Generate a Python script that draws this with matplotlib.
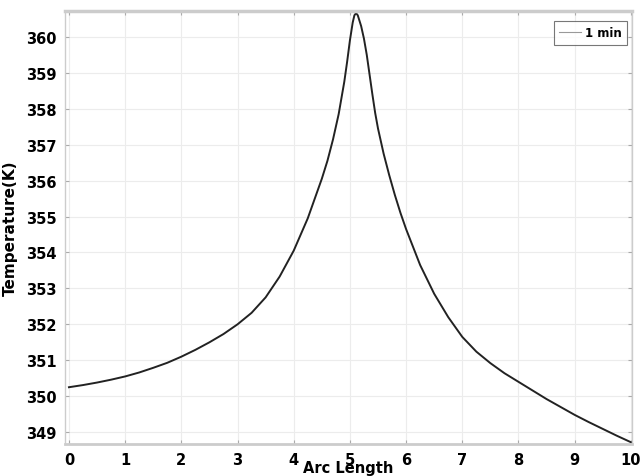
import matplotlib
matplotlib.use("Agg")
import matplotlib.pyplot as plt

arc_length = [0.0, 0.25, 0.5, 0.75, 1.0, 1.25, 1.5, 1.75, 2.0, 2.25, 2.5, 2.75,
              3.0, 3.25, 3.5, 3.75, 4.0, 4.25, 4.5, 4.6, 4.7, 4.8, 4.9, 4.95,
              5.0, 5.05, 5.08, 5.11, 5.14, 5.17, 5.2, 5.25, 5.3, 5.35, 5.4, 5.45,
              5.5, 5.6, 5.7, 5.8, 5.9, 6.0, 6.25, 6.5, 6.75, 7.0, 7.25, 7.5, 7.75,
              8.0, 8.25, 8.5, 8.75, 9.0, 9.25, 9.5, 9.75, 10.0]
temperature = [350.25, 350.31, 350.38, 350.46, 350.55, 350.66, 350.79, 350.93,
               351.1, 351.29, 351.5, 351.73, 352.0, 352.32, 352.75, 353.33, 354.05,
               354.95, 356.05, 356.55, 357.15, 357.85, 358.75, 359.3, 359.9,
               360.4, 360.6, 360.66, 360.6, 360.45, 360.3, 359.95, 359.5, 358.95,
               358.4, 357.88, 357.45, 356.75, 356.15, 355.6, 355.1, 354.65, 353.65,
               352.85, 352.2, 351.65, 351.24, 350.92, 350.64, 350.4, 350.16,
               349.92, 349.7, 349.48, 349.28, 349.09, 348.9, 348.72]
xticks = [0, 1, 2, 3, 4, 5, 6, 7, 8, 9, 10]
yticks = [349, 350, 351, 352, 353, 354, 355, 356, 357, 358, 359, 360]
series_label = "1 min"

plt.rcParams['font.family'] = ['DejaVu Sans']
fig = plt.figure(figsize=(6.42, 4.77), dpi=100)
ax = fig.add_axes([65/642, 1-445/477, (632-65)/642, (445-12)/477])

ax.plot(arc_length, temperature, color='#222222', lw=1.4, label=series_label,
        solid_joinstyle='round')

ax.set_xlim(-0.07, 10.02)
ax.set_ylim(348.67, 360.72)
ax.set_xticks(xticks)
ax.set_yticks(yticks)
ax.grid(True, color='#ececec', lw=0.8)
ax.tick_params(direction='in', length=3, color='#aaaaaa', top=True, right=True,
               labelsize=10.5, pad=6)
for lab in ax.get_xticklabels() + ax.get_yticklabels():
    lab.set_fontweight('bold')
for s in ax.spines.values():
    s.set_color('#cccccc')
    s.set_linewidth(1.0)
ax.spines['top'].set_linewidth(2.5)
ax.spines['bottom'].set_linewidth(2.0)

ax.set_xlabel('Arc Length', fontweight='bold', fontsize=10.5, labelpad=-5)
ax.set_ylabel('Temperature(K)', fontweight='bold', fontsize=11, labelpad=6)

leg = ax.legend(loc='upper right', bbox_to_anchor=(0.991, 0.977),
                prop={'weight': 'bold', 'size': 8.5},
                frameon=True, fancybox=False, handlelength=1.9, handletextpad=0.3,
                borderpad=0.45, borderaxespad=0.0)
leg.get_frame().set_edgecolor('#555555')
leg.get_frame().set_linewidth(0.8)
leg.get_lines()[0].set_color('#999999')
leg.get_lines()[0].set_linewidth(0.8)

fig.savefig('out.png', dpi=100)
